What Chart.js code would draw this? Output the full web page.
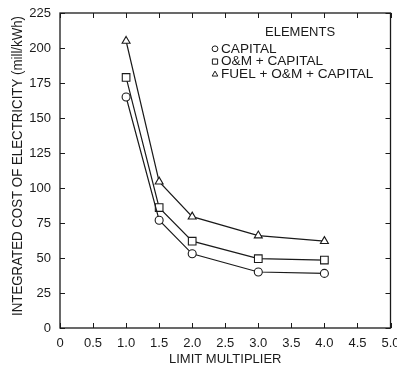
<!DOCTYPE html>
<html><head><meta charset="utf-8">
<script src="https://cdn.jsdelivr.net/npm/chart.js@4/dist/chart.umd.min.js"></script>
<style>html,body{margin:0;padding:0;background:#fff}#wrap{width:397px;height:368px}</style>
</head><body><div id="wrap"><canvas id="c" width="397" height="368"></canvas></div>
<script>
const limitMultiplier = [1.0, 1.5, 2.0, 3.0, 4.0];
const capital = [165, 77, 53, 40, 39];
const omCapital = [179, 86, 62, 49.5, 48.5];
const fuelOmCapital = [205, 104.5, 79.5, 66, 62];
const seriesNames = ['CAPITAL', 'O&M + CAPITAL', 'FUEL + O&M + CAPITAL'];
const pointStyles = ['circle', 'rect', 'triangle'];
const legendTitle = 'ELEMENTS';
const yAxisTitle = 'INTEGRATED COST OF ELECTRICITY (mill/kWh)';
const xAxisTitle = 'LIMIT MULTIPLIER';
const xTicks = [0, 0.5, 1, 1.5, 2, 2.5, 3, 3.5, 4, 4.5, 5];
const yTicks = [0, 25, 50, 75, 100, 125, 150, 175, 200, 225];

const FONT = '"Liberation Sans", Arial, Helvetica, sans-serif';
const INK = '#1a1a1a';
const FS = 13;
const radii = {circle: 4, rect: 5.4, triangle: 4.6};
const legendRadii = {circle: 2.9, rect: 3.7, triangle: 3.3};

function mk(name, ys, style) {
  return {
    label: name,
    data: limitMultiplier.map((x, i) => ({x, y: ys[i]})),
    borderColor: INK, borderWidth: 1.2,
    pointStyle: style, pointRadius: radii[style],
    pointBackgroundColor: '#fff', pointBorderColor: INK, pointBorderWidth: 1.1,
    tension: 0, fill: false
  };
}

const frameTicks = {
  id: 'frameTicks',
  afterDraw(chart) {
    const {ctx, chartArea: a, scales} = chart;
    ctx.save();
    ctx.strokeStyle = INK; ctx.lineWidth = 1.3;
    ctx.strokeRect(a.left, a.top, a.right - a.left, a.bottom - a.top);
    ctx.lineWidth = 1;
    const L = 5;
    ctx.beginPath();
    xTicks.forEach(v => {
      const px = Math.round(scales.x.getPixelForValue(v)) + 0.5;
      ctx.moveTo(px, a.bottom); ctx.lineTo(px, a.bottom - L);
      ctx.moveTo(px, a.top); ctx.lineTo(px, a.top + L);
    });
    yTicks.forEach(v => {
      const py = Math.round(scales.y.getPixelForValue(v)) + 0.5;
      ctx.moveTo(a.left, py); ctx.lineTo(a.left + L, py);
      ctx.moveTo(a.right, py); ctx.lineTo(a.right - L, py);
    });
    ctx.stroke();
    // y axis title, stretched to the reference length
    ctx.save();
    ctx.font = '14px ' + FONT;
    const w = ctx.measureText(yAxisTitle).width;
    ctx.translate(18, 166);
    ctx.rotate(-Math.PI / 2);
    ctx.scale(300 / w, 1);
    ctx.fillStyle = INK;
    ctx.textAlign = 'center';
    ctx.textBaseline = 'middle';
    ctx.fillText(yAxisTitle, 0, 0);
    ctx.restore();
    // x axis title
    ctx.font = FS + 'px ' + FONT;
    ctx.fillStyle = INK;
    ctx.textAlign = 'center';
    ctx.textBaseline = 'middle';
    ctx.fillText(xAxisTitle, (a.left + a.right) / 2, 359);
    // legend
    ctx.textBaseline = 'middle';
    ctx.textAlign = 'left';
    const lx = 215, ly0 = 32;
    ctx.fillStyle = INK;
    ctx.font = FS + 'px ' + FONT;
    ctx.fillText(legendTitle, 265, ly0);
    ctx.font = '13.6px ' + FONT;
    seriesNames.forEach((n, i) => {
      const y = ly0 + 12.8 * (i + 1) + 4;
      ctx.fillStyle = '#fff'; ctx.strokeStyle = INK; ctx.lineWidth = 1;
      Chart.helpers.drawPoint(ctx, {pointStyle: pointStyles[i], radius: legendRadii[pointStyles[i]], borderWidth: 1}, lx, y);
      ctx.fillStyle = INK;
      ctx.fillText(n, lx + 6, y);
    });
    ctx.restore();
  }
};

new Chart(document.getElementById('c'), {
  type: 'line',
  data: { datasets: [mk(seriesNames[0], capital, 'circle'), mk(seriesNames[1], omCapital, 'rect'), mk(seriesNames[2], fuelOmCapital, 'triangle')] },
  options: {
    responsive: false, animation: false, devicePixelRatio: 1,
    layout: {padding: {top: 13, right: 6, left: 4, bottom: 2}},
    plugins: {legend: {display: false}, tooltip: {enabled: false}},
    scales: {
      x: {
        type: 'linear', min: 0, max: 5,
        afterBuildTicks: s => { s.ticks = xTicks.map(v => ({value: v})); },
        grid: {display: false, drawTicks: false}, border: {display: false},
        ticks: {color: INK, font: {family: FONT, size: FS}, padding: 8,
          callback: v => v === 0 ? '0' : v.toFixed(1), maxRotation: 0, autoSkip: false},
        afterFit: s => { s.height = 38; s.paddingLeft = 0; s.paddingRight = 0; }
      },
      y: {
        type: 'linear', min: 0, max: 225,
        afterBuildTicks: s => { s.ticks = yTicks.map(v => ({value: v})); },
        grid: {display: false, drawTicks: false}, border: {display: false},
        ticks: {color: INK, font: {family: FONT, size: FS}, padding: 9, autoSkip: false},
        afterFit: s => { s.width = 56; s.paddingTop = 0; s.paddingBottom = 0; }
      }
    }
  },
  plugins: [frameTicks]
});
</script></body></html>
